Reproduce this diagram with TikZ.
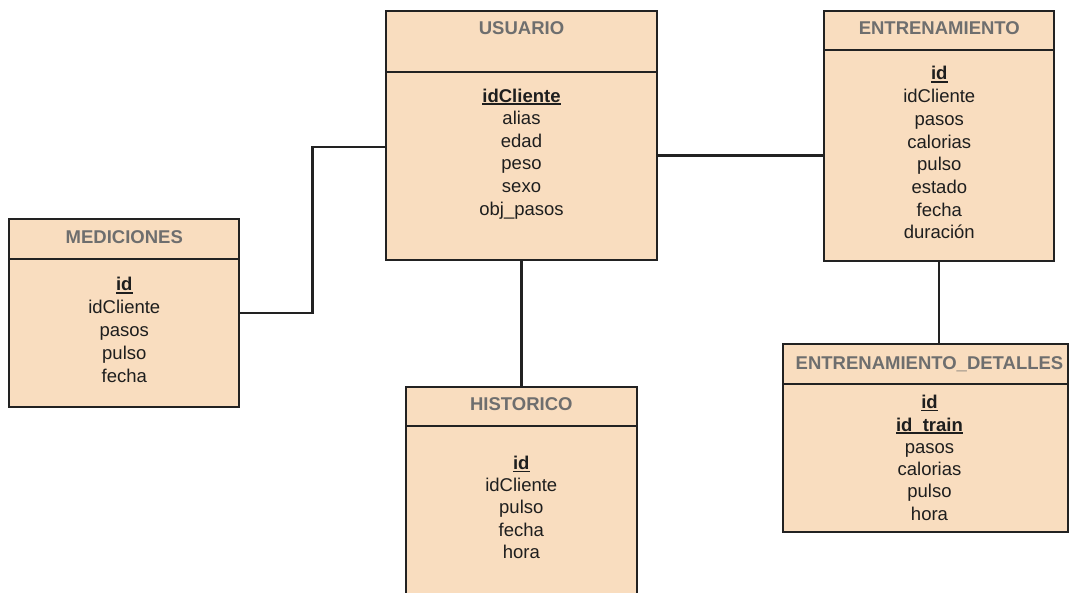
\documentclass[tikz,border=0pt]{standalone}
\usepackage{fontspec}
\setmainfont{Liberation Sans}
\definecolor{entityfill}{HTML}{F9DDBF}
\definecolor{framecol}{HTML}{222222}
\definecolor{titlecol}{HTML}{6E6E6E}
\definecolor{fieldcol}{HTML}{1E1E1E}
% primary-key attribute: bold with a heavier underline
\newcommand\keyattr[1]{\setbox0\hbox{\textbf{#1}}\rlap{\rule[-2.6pt]{\wd0}{1.4pt}}\box0}
\tikzset{
  entity/.style={draw=framecol, line width=1.8pt, fill=entityfill, rectangle,
                 inner sep=0pt, outer sep=0pt, anchor=north west},
  divider/.style={draw=framecol, line width=1.8pt},
  title/.style={font=\fontsize{18.5}{22}\selectfont\bfseries, text=titlecol,
                anchor=base, inner sep=0pt},
  field/.style={font=\fontsize{18.5}{22}\selectfont, text=fieldcol,
                anchor=base, inner sep=0pt},
  link/.style={draw=framecol, line width=2.1pt},
}
\begin{document}
\begin{tikzpicture}[x=1pt,y=-1pt]
\useasboundingbox (0,0) rectangle (1069,593);
\clip (0,0) rectangle (1069,593);

% ---------- USUARIO ----------
\node[entity, minimum width=271.6pt, minimum height=249.3pt] (usuario) at (385.7,10.7) {};
\draw[divider] (usuario.west |- 0,71.7) -- (usuario.east |- 0,71.7);
\node[title] (usuario-t) at (521.5,34.3) {USUARIO};
\foreach \t [count=\i from 0] in {\keyattr{idCliente},alias,edad,peso,sexo,obj\_pasos}
  \node[field] (usuario-f\i) at (521.5,102.2+22.6*\i) {\t};

% ---------- ENTRENAMIENTO ----------
\node[entity, minimum width=230pt, minimum height=250pt] (entrenamiento) at (824.3,10.7) {};
\draw[divider] (entrenamiento.west |- 0,50) -- (entrenamiento.east |- 0,50);
\node[title] (entrenamiento-t) at (939.3,34.3) {ENTRENAMIENTO};
\foreach \t [count=\i from 0] in {\keyattr{id},idCliente,pasos,calorias,pulso,estado,fecha,duración}
  \node[field] (entrenamiento-f\i) at (939.3,80+22.7*\i) {\t};

% ---------- MEDICIONES ----------
\node[entity, minimum width=230pt, minimum height=188pt] (mediciones) at (9.3,219.3) {};
\draw[divider] (mediciones.west |- 0,259.3) -- (mediciones.east |- 0,259.3);
\node[title] (mediciones-t) at (124.3,243.3) {MEDICIONES};
\foreach \t [count=\i from 0] in {\keyattr{id},idCliente,pasos,pulso,fecha}
  \node[field] (mediciones-f\i) at (124.3,291+22.9*\i) {\t};

% ---------- HISTORICO ----------
\node[entity, minimum width=230.7pt, minimum height=230pt] (historico) at (406,386.7) {};
\draw[divider] (historico.west |- 0,425.7) -- (historico.east |- 0,425.7);
\node[title] (historico-t) at (521.3,410.7) {HISTORICO};
\foreach \t [count=\i from 0] in {\keyattr{id},idCliente,pulso,fecha,hora}
  \node[field] (historico-f\i) at (521.3,469.8+22.1*\i) {\t};

% ---------- ENTRENAMIENTO_DETALLES ----------
\node[entity, minimum width=285.3pt, minimum height=188pt] (detalles) at (782.7,344.3) {};
\draw[divider] (detalles.west |- 0,384) -- (detalles.east |- 0,384);
\node[title] (detalles-t) at (929.5,369.3) {ENTRENAMIENTO\_DETALLES};
\foreach \t [count=\i from 0] in {\keyattr{id},\keyattr{id\_train},pasos,calorias,pulso,hora}
  \node[field] (detalles-f\i) at (929.5,408.8+22.3*\i) {\t};

% ---------- relationships ----------
\coordinate (bend) at (312.5,147);
\draw[link] (usuario.west |- bend) -- (bend) |- (mediciones.east);
\draw[link] (usuario.east |- 0,155.5) -- (entrenamiento.west |- 0,155.5);
\draw[link] (usuario.south) -- (usuario.south |- historico.north);
\draw[link] (entrenamiento.south) -- (entrenamiento.south |- detalles.north);
\end{tikzpicture}
\end{document}
